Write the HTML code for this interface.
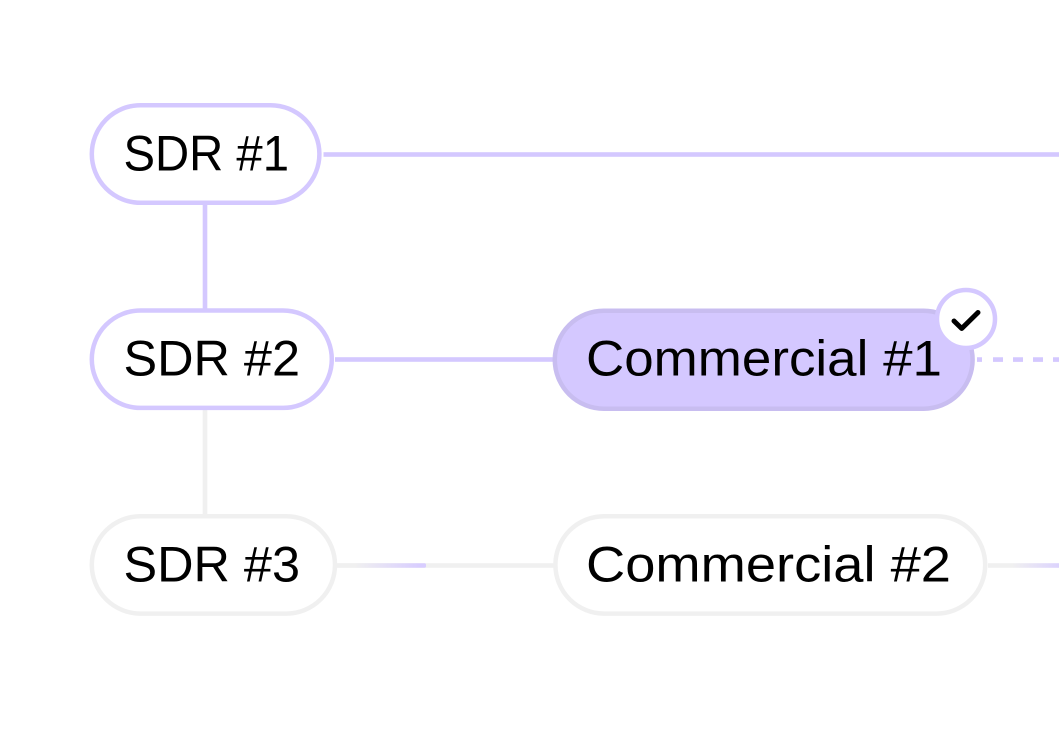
<!DOCTYPE html>
<html>
<head>
<meta charset="utf-8">
<style>
html,body{margin:0;padding:0;background:#fff;width:1059px;height:750px;overflow:hidden}
svg{display:block}
text{font-family:"Liberation Sans",sans-serif;font-size:50px;fill:#000}
</style>
</head>
<body>
<svg width="1059" height="750" viewBox="0 0 1059 750" xmlns="http://www.w3.org/2000/svg">
<defs>
<linearGradient id="g1" gradientUnits="userSpaceOnUse" x1="355" y1="0" x2="420" y2="0">
<stop offset="0" stop-color="#f0f0f0"/><stop offset="1" stop-color="#d8cdff"/>
</linearGradient>
<linearGradient id="g2" gradientUnits="userSpaceOnUse" x1="1012" y1="0" x2="1059" y2="0">
<stop offset="0" stop-color="#f0f0f0"/><stop offset="1" stop-color="#dcd3fd"/>
</linearGradient>
</defs>
<rect x="323.5" y="152.2" width="735.5" height="4.6" fill="#d4c8ff"/>
<rect x="202.7" y="205" width="4.6" height="104" fill="#d4c8ff"/>
<rect x="335" y="357.2" width="218" height="4.6" fill="#d4c8ff"/>
<rect x="202.7" y="410" width="4.6" height="105" fill="#f0f0f0"/>
<rect x="336" y="563.2" width="218" height="4.6" fill="#f0f0f0"/>
<rect x="337" y="563.2" width="89" height="4.6" rx="1.5" fill="url(#g1)"/>
<rect x="988" y="563.2" width="71" height="4.6" fill="url(#g2)"/>
<line x1="977" y1="359.6" x2="1059" y2="359.6" stroke="#d4c8ff" stroke-width="4.6" stroke-dasharray="5 11 10 10 10 10 10 10 10"/>

<rect x="91.8" y="105.2" width="227.6" height="97.6" rx="48.8" fill="#fff" stroke="#d4c8ff" stroke-width="4.5"/>
<rect x="91.8" y="310.5" width="240" height="97.4" rx="48.7" fill="#fff" stroke="#d4c8ff" stroke-width="4.5"/>
<rect x="91.8" y="516.2" width="243.2" height="97.4" rx="48.7" fill="#fff" stroke="#f0f0f0" stroke-width="4.5"/>
<rect x="554.8" y="310.7" width="417.8" height="98" rx="49" fill="#d4c8ff" stroke="#c8bdf0" stroke-width="4.5"/>
<rect x="555.4" y="516.2" width="429.8" height="97.4" rx="48.7" fill="#fff" stroke="#f0f0f0" stroke-width="4.5"/>

<text x="123.5" y="170.5" textLength="165.5" lengthAdjust="spacingAndGlyphs">SDR #1</text>
<text x="123.5" y="375.5" textLength="176.5" lengthAdjust="spacingAndGlyphs">SDR #2</text>
<text x="123.5" y="581.5" textLength="176.5" lengthAdjust="spacingAndGlyphs">SDR #3</text>
<text x="586" y="375.5" textLength="356" lengthAdjust="spacingAndGlyphs">Commercial #1</text>
<text x="586" y="581.5" textLength="365" lengthAdjust="spacingAndGlyphs">Commercial #2</text>

<circle cx="966" cy="319" r="29" fill="#fff" stroke="#d4c8ff" stroke-width="4.5"/>
<polyline points="954,321 961.7,328.5 978,312.5" fill="none" stroke="#000" stroke-width="5" stroke-linecap="round" stroke-linejoin="round"/>
</svg>
</body>
</html>
